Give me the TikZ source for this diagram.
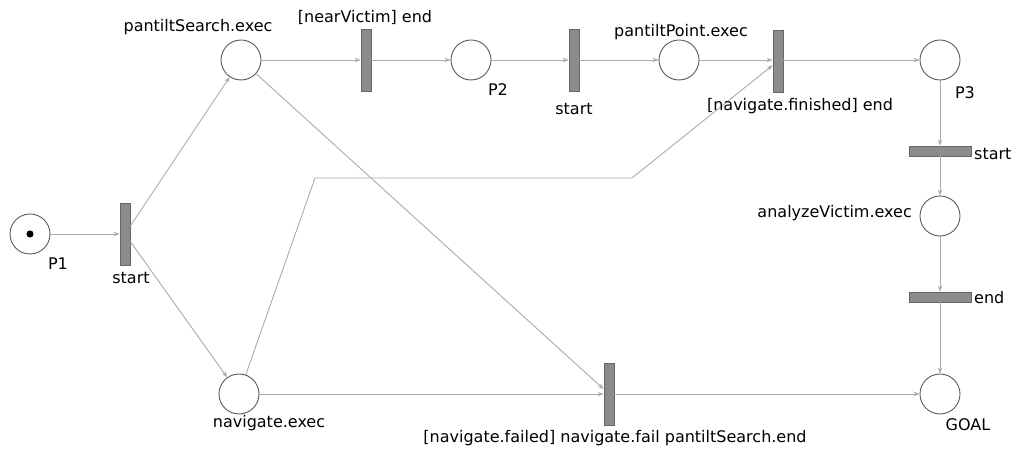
\documentclass[tikz,border=0pt]{standalone}
\usepackage{fontspec}
\setmainfont{DejaVu Sans}
\usetikzlibrary{arrows.meta}
\tikzset{
  place/.style={circle, draw=black!65, line width=0.9bp, minimum size=40bp, inner sep=0pt, fill=white},
  transv/.style={rectangle, draw=black!60, fill=black!45, line width=0.7bp, minimum width=10bp, minimum height=62bp, inner sep=0pt},
  transh/.style={rectangle, draw=black!60, fill=black!45, line width=0.7bp, minimum width=62bp, minimum height=10bp, inner sep=0pt},
  arc/.style={draw=black!33, line width=0.9bp, -{Stealth[length=6bp,width=4.5bp]}},
  lbl/.style={inner sep=0pt, font=\fontsize{16bp}{18bp}\selectfont, text=black},
}
\begin{document}
\begin{tikzpicture}[x=1bp,y=-1bp]
\useasboundingbox (0,0) rectangle (1014,452);
% places
\node[place] (p1) at (30,234) {};
\fill[black] (p1.center) circle (3.6bp);
\node[place] (ps) at (241,60) {};
\node[place] (p2) at (471,60) {};
\node[place] (pp) at (679,60) {};
\node[place] (p3) at (940,60) {};
\node[place] (av) at (940,216) {};
\node[place] (nav) at (239,394) {};
\node[place] (goal) at (940,394) {};
% transitions
\node[transv] (t1) at (125,234) {};
\node[transv] (t2) at (366,60) {};
\node[transv] (t3) at (574,60) {};
\node[transv] (t4) at (778,61) {};
\node[transh] (t5) at (940,151) {};
\node[transh] (t6) at (940,297) {};
\node[transv] (t7) at (609,394) {};
% bend points
\coordinate (b1) at (315,178);
\coordinate (b2) at (632,178);
% arcs
\draw[arc] (p1) -- (t1);
\draw[arc] (t1) -- (ps);
\draw[arc] (t1) -- (nav);
\draw[arc] (ps) -- (t2);
\draw[arc] (t2) -- (p2);
\draw[arc] (p2) -- (t3);
\draw[arc] (t3) -- (pp);
\draw[arc] (pp) -- (pp -| t4.west);
\draw[arc] (nav) -- (b1) -- (b2) -- (t4);
\draw[arc] (t4.east |- p3) -- (p3);
\draw[arc] (p3) -- (t5);
\draw[arc] (t5) -- (av);
\draw[arc] (av) -- (t6);
\draw[arc] (t6) -- (goal);
\draw[arc] (nav) -- (t7);
\draw[arc] (ps) -- (t7);
\draw[arc] (t7) -- (goal);
% labels
\node[lbl] (lps) at (198,27) {pantiltSearch.exec};
\node[lbl] (lt2) at (365,17) {[nearVictim] end};
\node[lbl] (lp2) at (498,90) {P2};
\node[lbl] (lt3) at (574,109) {start};
\node[lbl] (lpp) at (681,32) {pantiltPoint.exec};
\node[lbl] (lt4) at (800,106) {[navigate.finished] end};
\node[lbl] (lp3) at (965,93) {P3};
\node[lbl, anchor=west] (lt5) at (974,154) {start};
\node[lbl, anchor=east] (lav) at (912,213) {analyzeVictim.exec};
\node[lbl, anchor=west] (lt6) at (974,298) {end};
\node[lbl] (lp1) at (58,264) {P1};
\node[lbl] (lt1) at (131,278) {start};
\node[lbl] (lnav) at (269,423) {navigate.exec};
\node[lbl] (lt7) at (615,438) {[navigate.failed] navigate.fail pantiltSearch.end};
\node[lbl] (lgoal) at (968,425) {GOAL};
\end{tikzpicture}
\end{document}
